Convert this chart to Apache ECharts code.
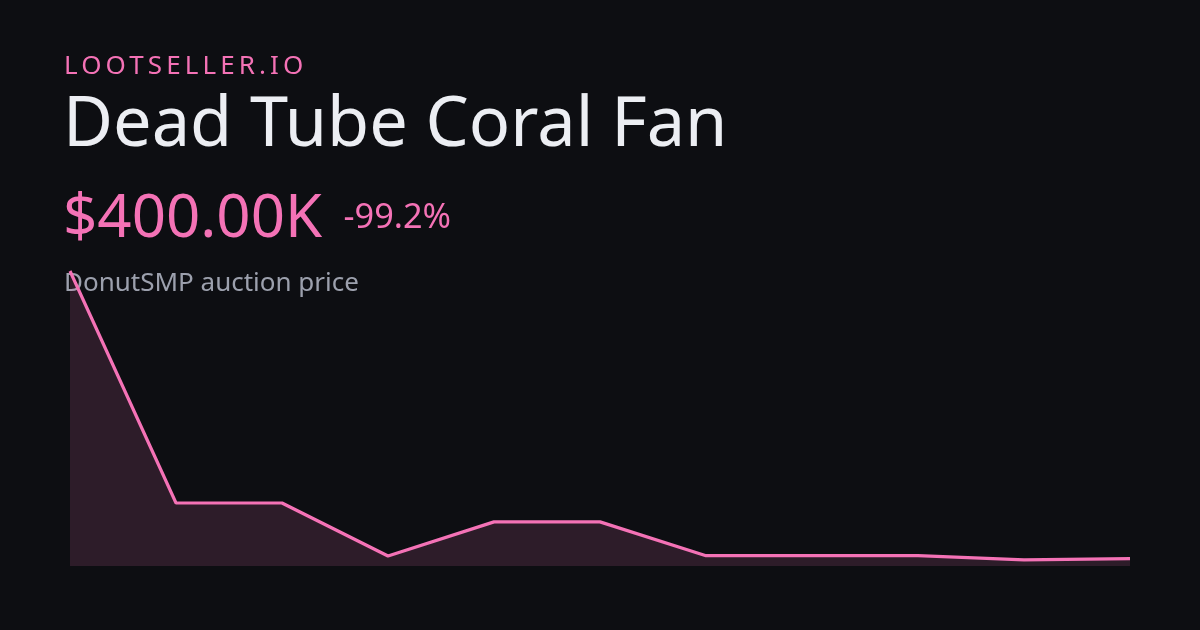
<!DOCTYPE html>
<html>
<head>
<meta charset="utf-8">
<script src="https://cdn.jsdelivr.net/npm/echarts@6/dist/echarts.min.js"></script>
<style>
  html, body { margin: 0; padding: 0; background: #0d0e12; }
  #wrap { position: relative; width: 1200px; height: 630px; }
  #chart { width: 1200px; height: 630px; }
  #brand { position: absolute; left: 64px; top: 51px; font-family: "Noto Sans", sans-serif;
           font-size: 26px; letter-spacing: 4.1px; color: #f472b6; line-height: 26px; white-space: nowrap; }
</style>
</head>
<body>
<div id="wrap">
  <div id="chart"></div>
  <div id="brand">LOOTSELLER.IO</div>
</div>
<script>
// Data
const categories = ['1', '2', '3', '4', '5', '6', '7', '8', '9', '10', '11'];
const prices = [50000000, 10000000, 10000000, 860000, 6750000, 6750000, 920000, 920000, 920000, 180000, 400000];
const yMin = -860000;
const yMax = 50000000;
const titleText = 'Dead Tube Coral Fan';
const priceText = '$400.00K';
const changeText = '-99.2%';
const subText = 'DonutSMP auction price';

const FONT = '"Noto Sans", "Open Sans", sans-serif';
const chart = echarts.init(document.getElementById('chart'), null, { renderer: 'canvas' });
chart.setOption({
  backgroundColor: '#0d0e12',
  animation: false,
  grid: { left: 70, right: 70, top: 271, height: 295, containLabel: false },
  xAxis: { type: 'category', data: categories, boundaryGap: false, show: false },
  yAxis: { type: 'value', min: yMin, max: yMax, show: false, splitLine: { show: false } },
  graphic: [
    { type: 'text', x: 63, y: 126.5, style: { text: titleText, font: '68.5px ' + FONT, fill: '#eceef3', verticalAlign: 'middle' } },
    { type: 'text', x: 63, y: 220, style: { text: priceText, font: '60px ' + FONT, fill: '#f472b6', verticalAlign: 'middle' } },
    { type: 'text', x: 343.5, y: 218.3, style: { text: changeText, font: '34.3px ' + FONT, fill: '#f472b6', verticalAlign: 'middle' } },
    { type: 'text', x: 64, y: 283.3, style: { text: subText, font: '26px ' + FONT, fill: '#9ca0ad', verticalAlign: 'middle' } }
  ],
  series: [{
    type: 'line',
    data: prices,
    symbol: 'none',
    lineStyle: { color: '#f472b6', width: 3.2 },
    areaStyle: { color: 'rgba(244,114,182,0.2)', origin: 'start' },
    z: 1
  }]
});
</script>
</body>
</html>
